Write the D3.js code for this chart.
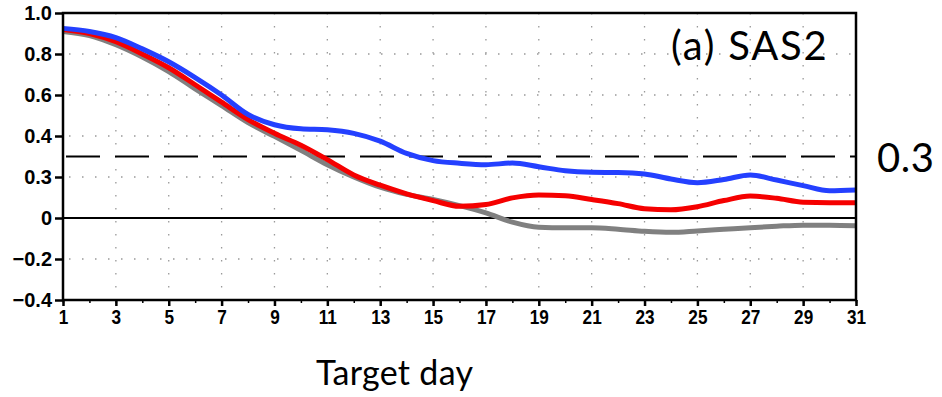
<!DOCTYPE html>
<html>
<head>
<meta charset="utf-8">
<script src="https://cdn.jsdelivr.net/npm/d3@7"></script>
<style>
  body { margin: 0; background: #fff; }
  .note { font-family: Lato, "Open Sans", sans-serif; fill: #000; }
</style>
</head>
<body>
<svg id="chart" width="942" height="397"></svg>
<script>
// target days and skill curves
let days = d3.range(1, 32)
let blueVals = [0.925, 0.91, 0.88, 0.825, 0.762, 0.685, 0.60, 0.505, 0.455, 0.435,
  0.43, 0.413, 0.375, 0.315, 0.28, 0.267, 0.26, 0.268, 0.25, 0.23,
  0.223, 0.222, 0.215, 0.19, 0.172, 0.188, 0.21, 0.185, 0.158, 0.133, 0.137]
let redVals = [0.92, 0.90, 0.86, 0.80, 0.733, 0.65, 0.565, 0.48, 0.413, 0.355,
  0.285, 0.21, 0.16, 0.118, 0.085, 0.057, 0.066, 0.098, 0.112, 0.108,
  0.09, 0.07, 0.045, 0.04, 0.055, 0.085, 0.107, 0.096, 0.077, 0.075, 0.075]
let grayVals = [0.91, 0.89, 0.845, 0.785, 0.714, 0.63, 0.548, 0.465, 0.398, 0.33,
  0.26, 0.2, 0.15, 0.115, 0.09, 0.06, 0.025, -0.02, -0.045, -0.048,
  -0.048, -0.055, -0.065, -0.07, -0.063, -0.055, -0.047, -0.04, -0.035, -0.035, -0.038]

let yTicks = [-0.4, -0.2, 0, 0.2, 0.4, 0.6, 0.8, 1.0]
let yTickLabels = ["\u22120.4", "\u22120.2", "0", "0.3", "0.4", "0.6", "0.8", "1.0"]
let xTicks = d3.range(1, 32, 2)
let threshold = 0.3

let svg = d3.select("#chart")

let xScale = d3.scaleLinear().domain([1, 31]).range([63, 856])
let yScale = d3.scaleLinear().domain([-0.4, 1.0]).range([300, 13])

// dotted grid
svg.append("g")
  .selectAll("line")
  .data(xTicks.slice(1, -1))
  .enter()
  .append("line")
  .attr("x1", d => xScale(d)).attr("x2", d => xScale(d))
  .attr("y1", yScale(1.0)).attr("y2", yScale(-0.4))
  .attr("stroke", "#999").attr("stroke-width", 1.3)
  .attr("stroke-dasharray", "1.5 11.5")

svg.append("g")
  .selectAll("line")
  .data(yTicks.filter(d => d != 0 && d != -0.4 && d != 1.0))
  .enter()
  .append("line")
  .attr("x1", xScale(1)).attr("x2", xScale(31))
  .attr("y1", d => yScale(d)).attr("y2", d => yScale(d))
  .attr("stroke", "#999").attr("stroke-width", 1.3)
  .attr("stroke-dasharray", "1.5 11.5")
  .attr("stroke-dashoffset", -6)

// zero line and threshold line
svg.append("line")
  .attr("x1", xScale(1)).attr("x2", xScale(31))
  .attr("y1", yScale(0)).attr("y2", yScale(0))
  .attr("stroke", "#000").attr("stroke-width", 2)

svg.append("line")
  .attr("x1", xScale(1)).attr("x2", xScale(31))
  .attr("y1", yScale(threshold)).attr("y2", yScale(threshold))
  .attr("stroke", "#000").attr("stroke-width", 2.2)
  .attr("stroke-dasharray", "34 15")
  .attr("stroke-dashoffset", -3)

// curves
let line = d3.line().curve(d3.curveMonotoneX)
let series = [
  { vals: grayVals, color: "#808080" },
  { vals: redVals, color: "#f50000" },
  { vals: blueVals, color: "#2440ff" }
]
series.forEach(function (s) {
  svg.append("path")
    .attr("d", line(days.map((d, i) => [xScale(d), yScale(s.vals[i])])))
    .attr("fill", "none")
    .attr("stroke", s.color)
    .attr("stroke-width", 5)
    .attr("stroke-linejoin", "round")
})

// frame
svg.append("rect")
  .attr("x", xScale(1)).attr("y", yScale(1.0))
  .attr("width", xScale(31) - xScale(1))
  .attr("height", yScale(-0.4) - yScale(1.0))
  .attr("fill", "none").attr("stroke", "#000").attr("stroke-width", 2.5)

// axes
function styleLabels(sel) {
  sel.selectAll(".tick text")
    .style("font-family", "'Liberation Sans', Arial, sans-serif")
    .style("font-weight", "bold")
    .style("font-size", "20px")
    .style("fill", "#000")
}

let yAxis = d3.axisLeft(yScale)
  .tickValues(yTicks)
  .tickSize(8)
  .tickPadding(3)
  .tickFormat((d, i) => yTickLabels[i])
let yAxisGroup = svg.append("g")
  .attr("transform", `translate(${xScale(1)},0)`)
  .call(yAxis)
yAxisGroup.select(".domain").remove()
yAxisGroup.selectAll(".tick line").attr("stroke-width", 2.5)
styleLabels(yAxisGroup)

// minor ticks every day
svg.append("g")
  .attr("transform", `translate(0,${yScale(-0.4)})`)
  .call(d3.axisBottom(xScale).tickValues(days).tickSize(3).tickFormat(""))
  .call(g => g.select(".domain").remove())
  .selectAll(".tick line").attr("stroke-width", 1.5)

let xAxisGroup = svg.append("g")
  .attr("transform", `translate(0,${yScale(-0.4)})`)
  .call(d3.axisBottom(xScale).tickValues(xTicks).tickSize(6).tickPadding(4).tickFormat(d3.format("d")))
xAxisGroup.select(".domain").remove()
xAxisGroup.selectAll(".tick line").attr("stroke-width", 2.5)
styleLabels(xAxisGroup)
xAxisGroup.selectAll(".tick text").attr("transform", "scale(0.86,1)")

// annotations
svg.append("text")
  .attr("class", "note")
  .attr("x", 671).attr("y", 60)
  .style("font-size", "40px")
  .style("letter-spacing", "1.8px")
  .text("(a) SAS2")

svg.append("text")
  .attr("class", "note")
  .attr("x", 877).attr("y", 172)
  .style("font-size", "40px")
  .style("letter-spacing", "0.5px")
  .text("0.3")

svg.append("text")
  .attr("class", "note")
  .attr("x", 316).attr("y", 385)
  .style("font-size", "34px")
  .style("letter-spacing", "0.3px")
  .text("Target day")
</script>
</body>
</html>
